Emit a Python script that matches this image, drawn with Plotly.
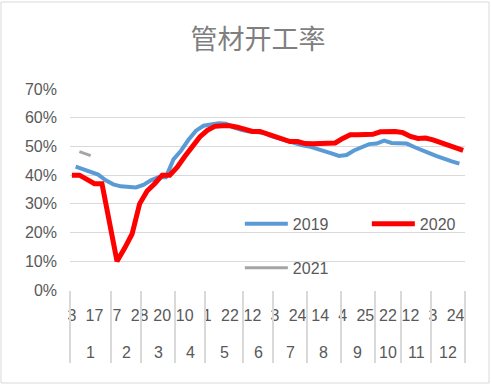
import plotly.graph_objects as go

# ---- categories: day-of-month labels grouped by month ----
months = [1, 2, 3, 4, 5, 6, 7, 8, 9, 10, 11, 12]
days_by_month = [
    [3, 4, 6, 8, 10, 14, 17, 21, 24, 28, 31],
    [4, 7, 11, 14, 18, 21, 25, 28],
    [3, 6, 10, 13, 17, 20, 24, 27, 31],
    [3, 7, 10, 14, 17, 21, 24, 28],
    [1, 4, 8, 11, 15, 18, 22, 25, 28, 31],
    [5, 9, 12, 16, 19, 23, 26, 30],
    [3, 7, 10, 14, 17, 21, 24, 28, 31],
    [4, 7, 11, 14, 18, 21, 25, 28, 31],
    [4, 8, 11, 15, 18, 22, 25, 28, 30],
    [9, 13, 16, 22, 23, 27, 30],
    [5, 10, 12, 17, 20, 24, 27, 30],
    [3, 8, 11, 15, 18, 22, 24, 29, 31],
]
label_every = 6

# ---- series values (%) ----
# 2019: reported on odd categories
v2019 = [43, 42, 41, 40.2, 38.2, 36.8, 36.1, 35.8, 35.7, 36.6, 38.2, 39.3,
         39.3, 45.5, 48.5, 52.3, 55.5, 57.2, 57.5, 58.1, 57.9, 56.6, 55.8, 55.2,
         55.0, 54.7, 53.6, 52.8, 52.0, 51.3, 50.5, 50.0, 49.3, 48.4, 47.6, 46.7,
         47.0, 48.6, 49.8, 50.8, 51.0, 52.0, 51.2, 51.2, 51.0, 49.8, 48.6, 47.7,
         46.6, 45.6, 44.8, 44.0]
# 2020: reported on even categories (None = no report)
v2020 = [40, 40, 38.5, 37, 37, None, 10, 14.5, 19.5, 30, 34.5, 37,
         40, 40, 42.8, 46.5, 50.2, 53.3, 55.6, 57, 57.2, 57.2, 56.7, 56,
         55.2, 55.2, 54.3, 53.6, 52.5, 51.7, 51.7, 51, 50.9, 50.9, 50.9, 51.2,
         52.8, 54.1, 54.1, 54.1, 54.2, 55.1, 55.2, 55.2, 54.8, 53.5, 52.8, 52.9,
         52.3, 51.4, 50.4, 49.4, 48.6]
# 2021
idx2021 = [2, 5]
v2021 = [48.2, 46.8]

# ---- derived category positions ----
n_cat = sum(len(d) for d in days_by_month)
day_labels = [str(d) for ds in days_by_month for d in ds]
x2019 = list(range(1, n_cat, 2))
x2020 = list(range(0, n_cat, 2))
tick_idx = list(range(0, n_cat, label_every))
tick_txt = [day_labels[i] for i in tick_idx]

bounds = [-0.5]
centers = []
start = 0
for ds in days_by_month:
    centers.append(start + (len(ds) - 1) / 2)
    start += len(ds)
    bounds.append(start - 0.5)

GRID = '#D9D9D9'
TXT = '#595959'
FONT = 'Liberation Sans'

fig = go.Figure()
fig.add_trace(go.Scatter(x=x2019, y=v2019, mode='lines', name='2019',
                         line=dict(color='#5B9BD5', width=4), connectgaps=True,
                         legend='legend'))
fig.add_trace(go.Scatter(x=x2020, y=v2020, mode='lines', name='2020',
                         line=dict(color='#FF0000', width=5), connectgaps=True,
                         legend='legend'))
fig.add_trace(go.Scatter(x=idx2021, y=v2021, mode='lines', name='2021',
                         line=dict(color='#A5A5A5', width=3), connectgaps=True,
                         legend='legend2'))
# helper trace for the month-separator axis
fig.add_trace(go.Scatter(x=[None], y=[None], xaxis='x2', showlegend=False,
                         hoverinfo='skip'))

annotations = []
for m, c in zip(months, centers):
    annotations.append(dict(x=c, xref='x', y=-0.309, yref='paper', text=str(m),
                            showarrow=False, yanchor='middle',
                            font=dict(family=FONT, size=16, color=TXT)))

fig.update_layout(
    width=491, height=386,
    margin=dict(l=70, r=26, t=89, b=96, autoexpand=False),
    paper_bgcolor='white', plot_bgcolor='white',
    title=dict(text='管材开工率', x=258 / 491, xanchor='center',
               y=1 - 40 / 386, yanchor='middle',
               font=dict(family='Noto Sans CJK SC', size=27, color='#7F7F7F')),
    xaxis=dict(range=[-0.5, n_cat - 0.5], tickmode='array', tickvals=tick_idx,
               ticktext=tick_txt, tickangle=0, showgrid=False, zeroline=False,
               showline=False, ticks='', ticklabelstandoff=14,
               tickfont=dict(family=FONT, size=16, color=TXT)),
    xaxis2=dict(overlaying='x', anchor='y', side='bottom',
                range=[-0.5, n_cat - 0.5], tickmode='array', tickvals=bounds,
                ticks='outside', ticklen=72, tickwidth=1.5, tickcolor=GRID,
                showticklabels=False, showgrid=False, zeroline=False, showline=False),
    yaxis=dict(range=[0, 70], dtick=10, ticksuffix='%', gridcolor=GRID, gridwidth=1,
               zeroline=False, showline=False, ticklabelstandoff=12,
               tickfont=dict(family=FONT, size=16, color=TXT)),
    legend=dict(orientation='h', x=0.430, xanchor='left', y=0.329, yanchor='middle',
                itemwidth=43, entrywidth=69, bgcolor='rgba(0,0,0,0)',
                font=dict(family=FONT, size=16, color=TXT)),
    legend2=dict(orientation='h', x=0.430, xanchor='left', y=0.110, yanchor='middle',
                 itemwidth=43, bgcolor='rgba(0,0,0,0)',
                 font=dict(family=FONT, size=16, color=TXT)),
    annotations=annotations,
    shapes=[dict(type='rect', xref='paper', yref='paper',
                 x0=-69 / 395, x1=419 / 395, y0=-93 / 201, y1=288 / 201,
                 line=dict(color=GRID, width=1))],
    showlegend=True,
)

fig.write_html('out.html')
